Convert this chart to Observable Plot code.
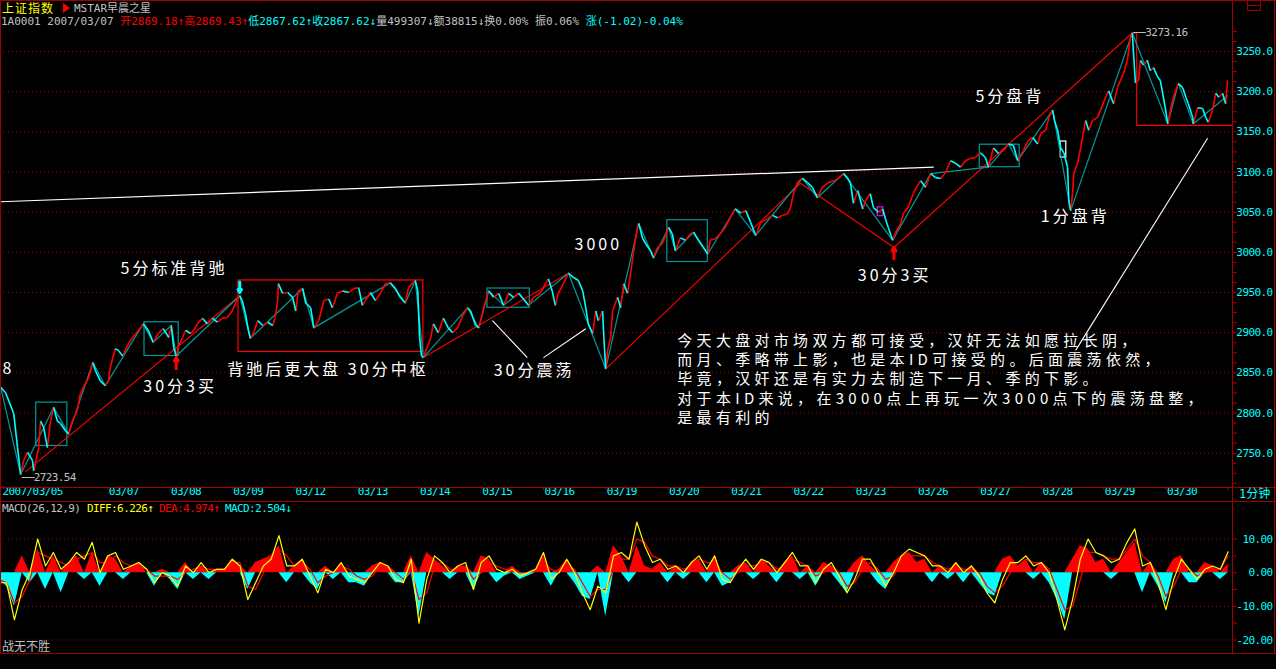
<!DOCTYPE html>
<html>
<head>
<meta charset="utf-8">
<script src="https://cdn.jsdelivr.net/npm/d3@7"></script>
<script src="https://cdn.jsdelivr.net/npm/@observablehq/plot@0.6"></script>
<style>
html,body{margin:0;padding:0;background:#000;}
#wrap{position:relative;width:1276px;height:669px;background:#000;overflow:hidden;}
.a{position:absolute;white-space:nowrap;}
.mono{font-family:"DejaVu Sans Mono","Noto Sans CJK SC",monospace;}
.ln{position:absolute;background:#a00000;}
svg{display:block;}
</style>
</head>
<body>
<div id="wrap">
  <div class="a" id="main" style="left:0;top:28px;"></div>
  <div class="a" id="macd" style="left:0;top:502px;"></div>

  <div class="ln" style="left:0;top:0;width:1276px;height:1px"></div>
  <div class="ln" style="left:0;top:0;width:1px;height:654px"></div>
  <div class="ln" style="left:1274px;top:0;width:1px;height:654px"></div>
  <div class="ln" style="left:0;top:653px;width:1276px;height:1px"></div>
  <div class="ln" style="left:1232px;top:0;width:1px;height:654px"></div>
  <div class="ln" style="left:0;top:487px;width:1276px;height:1px"></div>
  <div class="ln" style="left:0;top:501px;width:1276px;height:1px"></div>
  <div class="a" style="left:1247px;top:0;width:12px;height:10px;border:1px solid #a00000;border-top:none"></div>
  <div class="ln" style="left:1247px;top:5px;width:13px;height:1px"></div>

  <div class="a" style="left:2px;top:0;font:12px 'Noto Sans CJK SC';line-height:16px;letter-spacing:1px;color:#ffff00">上证指数</div>
  <div class="a" style="left:63px;top:3px;width:0;height:0;border-top:5px solid transparent;border-bottom:5px solid transparent;border-left:7px solid #ff0000"></div>
  <div class="a mono" style="left:74px;top:1px;font-size:11px;line-height:15px;color:#c0c0c0">MSTAR早晨之星</div>
  <div class="a mono" style="left:1px;top:15px;font-size:11px;line-height:13px">
    <span style="color:#c0c0c0">1A0001 2007/03/07 </span><span style="color:#ff0000">开2869.18↑高2869.43↑</span><span style="color:#00ffff">低2867.62↑收2867.62↓</span><span style="color:#c0c0c0">量499307↓额38815↓换0.00% 振0.06% </span><span style="color:#00ffff">涨(-1.02)-0.04%</span>
  </div>

  <div class="a mono" style="left:1239px;top:488px;font-size:12px;line-height:13px;color:#00ffff">1分钟</div>

  <div class="a mono" style="left:2px;top:503px;font-size:11px;line-height:12px;letter-spacing:-0.6px;color:#c0c0c0">MACD(26,12,9)</div>
  <div class="a mono" style="left:87px;top:503px;font-size:11px;line-height:12px;letter-spacing:-0.6px;color:#ffff00">DIFF:6.226↑</div>
  <div class="a mono" style="left:159px;top:503px;font-size:11px;line-height:12px;letter-spacing:-0.6px;color:#ff0000">DEA:4.974↑</div>
  <div class="a mono" style="left:225px;top:503px;font-size:11px;line-height:12px;letter-spacing:-0.6px;color:#00ffff">MACD:2.504↓</div>
  <div class="a" style="left:2px;top:639px;font:12px 'Noto Sans CJK SC';line-height:14px;color:#c0c0c0">战无不胜</div>
</div>
<script>
// ---------- data ----------
const dates = ["2007/03/05","03/06","03/07","03/08","03/09","03/12","03/13","03/14","03/15","03/16",
               "03/19","03/20","03/21","03/22","03/23","03/26","03/27","03/28","03/29","03/30"];
const yMajor = [2750,2800,2850,2900,2950,3000,3050,3100,3150,3200,3250];
const macdTicks = [10,0,-10,-20];
const lowVal = 2723.54, highVal = 3273.16;

// price path (trading-day position, index value)
const priceT = [0.28,0.36,0.49,0.55,0.60,0.65,0.71,0.79,0.81,0.89,0.92,0.97,1.03,1.08,1.13,1.19,1.24,1.32,1.37,1.43,1.51,1.56,1.64,1.69,
1.76,1.80,1.88,1.96,2.01,2.04,2.12,2.17,2.24,2.28,2.36,2.45,2.53,2.57,2.65,2.73,2.81,2.89,2.98,3.02,3.06,3.10,3.14,3.20,3.25,3.33,3.38,3.44,3.52,3.60,3.68,3.76,3.84,3.92,4.00,4.08,4.12,4.16,4.21,4.26,4.29,4.34,4.41,4.49,4.57,4.65,4.69,4.73,4.74,4.81,4.89,4.97,5.02,5.06,5.13,5.18,5.26,5.31,5.39,5.47,5.55,5.61,5.69,5.77,5.87,5.95,6.03,6.09,6.17,6.22,6.30,6.38,6.46,6.54,6.62,6.70,6.78,6.83,6.90,6.94,6.98,7.01,7.04,7.07,
7.19,7.23,7.31,7.39,7.47,7.54,7.62,7.70,7.78,7.83,7.91,7.96,8.04,8.12,8.20,8.28,8.36,8.44,8.52,8.60,8.68,8.76,8.84,8.95,9.03,9.08,9.14,9.19,9.24,9.32,9.40,9.48,9.56,9.63,9.68,9.72,9.79,9.84,9.88,9.95,9.97,10.00,10.03,10.08,10.11,10.19,10.24,10.29,10.35,10.40,10.45,10.51,10.53,10.59,10.64,10.72,10.77,10.83,10.91,10.99,11.01,11.07,11.12,11.20,11.28,11.36,11.41,11.49,11.57,11.64,11.68,11.76,11.84,11.92,12.00,12.08,12.17,12.25,12.33,12.41,12.49,12.60,12.68,12.76,12.84,12.92,12.97,13.02,13.08,13.16,13.24,13.32,13.40,13.48,13.56,13.66,13.74,13.82,13.88,13.93,13.98,14.05,14.13,14.17,14.25,14.30,14.38,14.45,14.50,14.54,14.61,14.66,14.74,14.78,14.86,14.94,15.03,
15.06,15.14,15.22,15.30,15.38,15.46,15.54,15.62,15.70,15.78,15.86,15.94,16.02,16.10,16.15,16.23,16.31,16.39,16.47,16.55,16.62,16.66,16.71,16.79,16.86,16.94,16.99,17.07,17.12,17.18,17.21,17.26,17.31,17.36,17.42,17.44,17.47,17.50,17.52,17.58,17.63,17.68,17.71,17.76,17.82,17.90,17.95,18.03,18.08,18.16,18.22,18.27,18.32,18.38,18.43,18.46,18.48,18.51,18.56,18.59,18.64,18.70,18.75,18.80,18.87,18.91,18.99,19.03,19.08,19.12,19.20,19.27,19.32,19.36,19.43,19.44,19.51,19.59,19.64,19.68,19.75,19.80,19.85,19.91,19.96,19.99];
const priceP = [2832,2825,2799,2757,2723.5,2741,2751,2741,2728,2757,2790,2782,2757,2790,2807,2790,2787,2778,2774,2790,2803,2824,2837,2843,
2863,2853,2840,2834,2840,2857,2880,2878,2871,2878,2890,2899,2906,2911,2903,2888,2899,2905,2894,2909,2881,2871,2884,2894,2903,2899,2903,2911,2918,2911,2918,2913,2918,2919,2927,2942,2946,2940,2924,2903,2893,2899,2915,2909,2913,2909,2919,2940,2961,2949,2950,2944,2927,2952,2955,2937,2931,2906,2915,2940,2942,2931,2949,2952,2950,2955,2956,2934,2944,2950,2940,2949,2961,2962,2955,2944,2937,2956,2962,2965,2952,2894,2871,2869,
2894,2911,2900,2918,2906,2900,2906,2921,2931,2927,2909,2906,2931,2952,2944,2949,2934,2949,2944,2949,2942,2934,2944,2949,2961,2967,2952,2934,2949,2961,2974,2969,2965,2952,2931,2911,2899,2927,2915,2927,2894,2855,2878,2894,2927,2944,2931,2961,2949,2974,3002,3031,3036,3018,3011,3002,2993,3006,3011,3027,3031,3023,3002,3018,3015,3023,3025,3015,3006,2998,3015,3017,3023,3031,3043,3054,3049,3052,3037,3021,3037,3042,3046,3043,3046,3048,3056,3074,3087,3092,3087,3081,3068,3081,3086,3089,3092,3098,3093,3087,3061,3077,3054,3064,3073,3056,3050,3054,3040,3031,3015,3025,3036,3048,3056,3073,3086,
3089,3081,3098,3093,3092,3099,3114,3111,3106,3114,3117,3118,3124,3118,3106,3130,3123,3127,3135,3133,3114,3120,3127,3139,3143,3135,3148,3152,3168,3177,3164,3152,3130,3124,3106,3064,3052,3073,3098,3111,3130,3152,3164,3152,3164,3168,3177,3193,3201,3185,3205,3214,3223,3239,3267,3273,3248,3211,3214,3239,3233,3239,3226,3230,3218,3214,3180,3160,3180,3193,3210,3205,3193,3185,3168,3160,3180,3179,3168,3162,3177,3198,3193,3198,3185,3214];

// zigzag strokes (pivots)
const zigT = [0.28,0.60,1.13,1.37,1.76,1.96,2.57,2.73,3.02,3.10,4.12,4.29,5.13,5.31,6.54,6.78,6.94,7.07,7.78,7.96,8.12,8.36,8.60,8.76,9.40,10.00,10.53,10.77,11.01,11.12,11.41,11.64,12.08,12.41,13.16,13.40,13.82,14.61,15.22,16.15,16.47,16.62,17.18,17.47,18.46,19.03,19.20,19.44,19.99];
const zigP = [2832,2723.5,2807,2774,2863,2834,2911,2888,2909,2871,2946,2893,2955,2906,2962,2937,2965,2869,2931,2906,2952,2934,2949,2934,2974,2855,3036,2993,3031,3002,3025,2998,3054,3021,3092,3068,3098,3015,3098,3106,3135,3114,3177,3052,3273,3160,3210,3160,3195];

// red trend lines [t1,p1,t2,p2]
const redLines = [[0.68,2727,4.12,2946],[7.07,2869,9.40,2974],[10.00,2855,13.13,3086],[13.13,3086,14.63,3006],
  [14.63,3006,18.46,3273],[18.46,3273,18.53,3273],[18.53,3273,18.53,3158],[18.53,3158,20.07,3158]];
// white lines [t1,p1,t2,p2]
const whiteLines = [[0.28,3063,15.27,3106],[8.18,2915,8.74,2869],[9.00,2869,9.68,2905],[17.55,2878,19.67,3142]];
// boxes [t1,t2,p1,p2,kind]
const boxes = [[0.85,1.35,2759,2813,"c"],[2.59,3.14,2871,2913,"c"],[8.10,8.78,2931,2955,"c"],[10.99,11.64,2988,3040,"c"],
  [16.01,16.65,3106,3134,"c"],[4.10,7.07,2876,2965,"r"],[17.31,17.40,3118,3138,"w"],[14.37,14.46,3045,3056,"m"]];
// arrows [t, tail, head, kind]
const arrows = [[4.12,2963,2950,"c"],[3.10,2855,2869,"r"],[14.63,2992,3006,"r"]];
// annotations
const notes = [
  {t:2.205,p:2980,s:"5分标准背驰"},{t:2.57,p:2832,s:"30分3买"},{t:3.92,p:2854,s:"背驰后更大盘 30分中枢"},
  {t:0.31,p:2855,s:"8"},{t:9.50,p:3009,s:"3000"},{t:8.20,p:2852,s:"30分震荡"},{t:14.05,p:2971,s:"30分3买"},
  {t:15.94,p:3193,s:"5分盘背"},{t:16.99,p:3044,s:"1分盘背"}];
const paraLines = ["今天大盘对市场双方都可接受，汉奸无法如愿拉长阴，",
  "而月、季略带上影，也是本ID可接受的。后面震荡依然，",
  "毕竟，汉奸还是有实力去制造下一月、季的下影。",
  "对于本ID来说，在3000点上再玩一次3000点下的震荡盘整，",
  "是最有利的"];
const paraT = 11.15, paraP = [2890, 2866, 2842, 2817, 2793];

// MACD (sampled every 1/8 trading day from t = 0.25)
const macdT0 = 0.25, macdStep = 0.125;
const hist = [-2,-4,-10,5,-3,7,-5,5,-6,3, 5,-2,6,-4,5,4,-2,2,3,0, -4,1,-2,-5,3,-2,2,-2,1,1, 4,2,-5,3,4,5,8,-3,2,4,
 -3,-5,2,-2,3,-3,-3,-4,2,3, 2,-3,-3,5,-13,6,4,2,-2,2, 2,-5,5,4,-3,-1,2,-2,-1,1, 5,-4,1,4,-3,-7,-8,2,-13,8,
 5,-3,8,2,1,3,-3,2,-2,3, 4,-3,5,-4,-3,2,3,-2,4,2, -3,3,5,-2,2,-4,3,2,-3,-6, 3,5,2,-3,-5,3,5,6,3,4,
 -3,2,-2,3,-3,2,-3,-6,-7,4, 5,2,4,-2,3,-3,-8,-14,4,8, 7,3,4,-2,3,6,9,-6,3,-4, -9,4,5,-3,-3,3,2,-2,2.5];
const diff = [-3,-3,-14,-5,0,10,2,6,1,3, 6,4,9,0,5,6,1,2,3,1, -3,0,-1,-4,2,0,3,0,1,1, 4,2,-8,-3,2,4,11,2,2,4,
 -1,-6,1,0,3,-1,-2,-3,0,3, 2,-2,-3,4,-15,-2,5,3,0,2, 3,-5,3,5,1,0,1,-1,0,1, 6,-2,0,4,0,-6,-11,-4,-6,5,
 6,4,15,8,3,4,1,2,0,3, 5,1,5,-2,-3,1,4,1,4,3, 0,3,6,2,2,-3,1,3,-1,-6, -2,4,4,0,-4,0,5,7,6,5,
 2,2,0,3,0,2,-1,-6,-9,-2, 3,3,5,2,3,0,-8,-17,-8,4, 10,6,5,3,4,9,13,2,3,-3, -11,-2,4,1,-2,1,2,1,6.2];
const dea = [-2,-3,-9,-7,-2,6,5,4,3,2, 4,5,6,3,3,5,3,2,2,1, -1,-1,-1,-2,0,1,2,1,1,1, 3,3,-4,-5,0,2,7,5,2,3,
 1,-3,-1,0,2,1,-1,-2,-1,2, 2,0,-2,1,-8,-6,2,3,1,1, 2,-2,0,3,2,1,1,0,0,1, 3,1,0,2,1,-3,-7,-5,-5,1,
 4,4,10,9,5,4,2,2,1,2, 4,3,3,0,-2,0,2,2,3,3, 1,2,4,3,2,-1,0,2,0,-4, -3,1,3,1,-2,-1,3,5,5,5,
 3,2,1,2,1,1,0,-4,-6,-4, 0,2,4,3,3,1,-5,-11,-10,-2, 6,6,5,4,4,7,10,5,3,-1, -7,-4,1,1,-1,0,1,1,5.0];

// ---------- styles ----------
const RED="#ff0000", CYAN="#00ffff", TEAL="#009a9a", FRAME="#a00000", GRID="#a00000",
      WHITE="#ffffff", GRAY="#c0c0c0", YELLOW="#ffff00", MAG="#ff00ff";
const MONO="DejaVu Sans Mono", CJK="Noto Sans CJK SC";
const XDOM=[0.2764, 20.07];

// ---------- tables built from the arrays ----------
const segs = priceT.slice(1).map((t,i)=>({x1:priceT[i],y1:priceP[i],x2:t,y2:priceP[i+1],up:priceP[i+1]>=priceP[i]}));
const zig = zigT.map((t,i)=>({t,p:zigP[i]}));
const toLink = a => ({x1:a[0],y1:a[1],x2:a[2],y2:a[3]});
const boxColor = {c:TEAL,r:RED,w:WHITE,m:MAG};
const xLabels = dates.map((d,i)=>({t:i,label:d})).filter(d=>d.t>=2);
const yMinor = d3.range(2712.5, 3276, 12.5);
const para = paraLines.map((s,i)=>({t:paraT,p:paraP[i],s}));
const macdRows = hist.map((h,i)=>({t:macdT0+i*macdStep,h,diff:diff[i],dea:dea[i]}));

const mainPlot = Plot.plot({
  width:1276, height:474, marginLeft:0, marginRight:44, marginTop:0, marginBottom:15,
  style:{background:"transparent", color:WHITE, overflow:"visible"},
  x:{domain:XDOM, axis:"bottom", ticks:d3.range(1, dates.length+1), tickSize:3, tickFormat:()=>"", label:null},
  y:{domain:[2750,3250], range:[424.7,23], axis:"right", ticks:yMinor, tickSize:4, tickFormat:()=>"", label:null},
  marks:[
    Plot.ruleY(yMajor,{stroke:GRID, strokeDasharray:"1,3"}),
    Plot.link(whiteLines.slice(0,1).map(toLink),{x1:"x1",y1:"y1",x2:"x2",y2:"y2",stroke:WHITE,strokeWidth:1.2}),
    Plot.rect(boxes,{x1:d=>d[0],x2:d=>d[1],y1:d=>d[2],y2:d=>d[3],fill:"none",stroke:d=>boxColor[d[4]],strokeWidth:1.2}),
    Plot.link(redLines.map(toLink),{x1:"x1",y1:"y1",x2:"x2",y2:"y2",stroke:RED,strokeWidth:1.1}),
    Plot.line(zig,{x:"t",y:"p",stroke:TEAL,strokeWidth:1.2}),
    Plot.link(segs.filter(d=>d.up),{x1:"x1",y1:"y1",x2:"x2",y2:"y2",stroke:RED,strokeWidth:1.6}),
    Plot.link(segs.filter(d=>!d.up),{x1:"x1",y1:"y1",x2:"x2",y2:"y2",stroke:CYAN,strokeWidth:1.6}),
    Plot.link(whiteLines.slice(1).map(toLink),{x1:"x1",y1:"y1",x2:"x2",y2:"y2",stroke:WHITE,strokeWidth:1.1}),
    Plot.arrow(arrows,{x1:d=>d[0],y1:d=>d[1],x2:d=>d[0],y2:d=>d[2],stroke:d=>d[3]==="c"?CYAN:RED,strokeWidth:3,headLength:5,bend:0}),
    Plot.text(notes,{x:"t",y:"p",text:"s",fill:WHITE,fontSize:16,fontFamily:CJK,textAnchor:"start",ariaDescription:"cn"}),
    Plot.text(para,{x:"t",y:"p",text:"s",fill:WHITE,fontSize:15,fontFamily:CJK,textAnchor:"start",ariaDescription:"cnp"}),
    Plot.text([highVal],{x:()=>18.46,y:d=>d,text:d=>"──"+d.toFixed(2),dx:1,fill:GRAY,fontSize:11,fontFamily:MONO,textAnchor:"start",ariaDescription:"mono"}),
    Plot.text([lowVal],{x:()=>0.60,y:d=>d,text:d=>"──"+d.toFixed(2),dx:1,dy:3,fill:GRAY,fontSize:11,fontFamily:MONO,textAnchor:"start",ariaDescription:"mono"}),
    Plot.text(yMajor,{y:d=>d,text:d=>d.toFixed(1),frameAnchor:"right",dx:40,textAnchor:"end",fill:CYAN,fontSize:11,fontFamily:MONO,ariaDescription:"mono"}),
    Plot.text(xLabels,{x:"t",text:"label",frameAnchor:"bottom",dy:7,dx:1,textAnchor:"start",fill:CYAN,fontSize:11,fontFamily:MONO,ariaDescription:"mono"}),
    Plot.text([dates[0]],{text:d=>d,frameAnchor:"bottom-left",dx:2,dy:7,textAnchor:"start",fill:CYAN,fontSize:11,fontFamily:MONO,ariaDescription:"mono"})
  ]
});

const macdPlot = Plot.plot({
  width:1276, height:167, marginLeft:0, marginRight:44, marginTop:0, marginBottom:16,
  style:{background:"transparent", color:WHITE, overflow:"visible"},
  x:{domain:XDOM, axis:null},
  y:{domain:[10,-20], range:[36.5,137.5], axis:"right", ticks:[10,5,0,-5,-10,-15,-20], tickSize:4, tickFormat:()=>"", label:null},
  marks:[
    Plot.ruleY([10,-10,-20],{stroke:GRID, strokeDasharray:"1,3"}),
    Plot.areaY(macdRows,{x:"t",y1:0,y2:d=>Math.max(d.h,0),fill:RED,clip:true}),
    Plot.areaY(macdRows,{x:"t",y1:0,y2:d=>Math.min(d.h,0),fill:CYAN,clip:true}),
    Plot.line(macdRows,{x:"t",y:"dea",stroke:RED,strokeWidth:1.2,clip:true}),
    Plot.line(macdRows,{x:"t",y:"diff",stroke:YELLOW,strokeWidth:1.2,clip:true}),
    Plot.text(macdTicks,{y:d=>d,text:d=>d.toFixed(2),frameAnchor:"right",dx:40,textAnchor:"end",fill:CYAN,fontSize:11,fontFamily:MONO,ariaDescription:"mono"})
  ]
});

function restyle(node){
  const s = d3.select(node);
  s.selectAll('[aria-label^="x-axis"],[aria-label^="y-axis"]').style("color",FRAME);
  s.selectAll('[aria-description="cn"] text').style("letter-spacing","3px");
  s.selectAll('[aria-description="cnp"] text').style("letter-spacing","4.3px");
  s.selectAll('[aria-description="mono"] text').style("letter-spacing","-0.6px");
}
restyle(mainPlot); restyle(macdPlot);
document.getElementById("main").appendChild(mainPlot);
document.getElementById("macd").appendChild(macdPlot);
</script>
</body>
</html>
